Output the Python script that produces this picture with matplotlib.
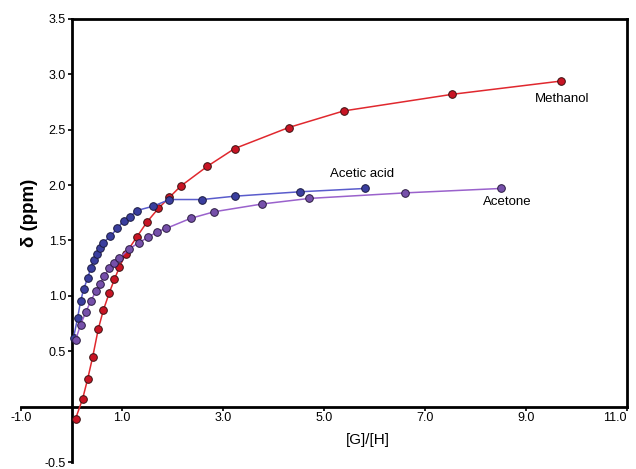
import matplotlib
matplotlib.use('Agg')
import matplotlib.pyplot as plt

plt.rcParams['font.family'] = ['Liberation Sans', 'DejaVu Sans']

# methanol
meth_x = [0.08, 0.22, 0.32, 0.42, 0.53, 0.63, 0.75, 0.85, 0.95, 1.07, 1.29, 1.50,
          1.72, 1.94, 2.16, 2.69, 3.23, 4.30, 5.39, 7.54, 9.70]
meth_y = [-0.11, 0.07, 0.25, 0.45, 0.70, 0.87, 1.03, 1.15, 1.26, 1.38, 1.53, 1.67,
          1.79, 1.89, 1.99, 2.17, 2.33, 2.52, 2.67, 2.82, 2.94]

# acetic acid
acid_x = [0.04, 0.12, 0.18, 0.24, 0.32, 0.38, 0.44, 0.51, 0.57, 0.63, 0.77, 0.91,
          1.03, 1.15, 1.29, 1.62, 1.94, 2.59, 3.23, 4.53, 5.82]
acid_y = [0.62, 0.80, 0.95, 1.06, 1.16, 1.25, 1.32, 1.38, 1.43, 1.48, 1.54, 1.61,
          1.68, 1.71, 1.77, 1.81, 1.87, 1.87, 1.90, 1.94, 1.97]

# acetone
acet_x = [0.08, 0.18, 0.28, 0.38, 0.48, 0.57, 0.65, 0.75, 0.85, 0.95, 1.13, 1.33,
          1.52, 1.70, 1.88, 2.36, 2.83, 3.78, 4.71, 6.61, 8.51]
acet_y = [0.60, 0.74, 0.85, 0.95, 1.04, 1.11, 1.18, 1.25, 1.30, 1.34, 1.42, 1.48,
          1.53, 1.58, 1.61, 1.70, 1.76, 1.83, 1.88, 1.93, 1.97]

xticks = [-1, 1, 3, 5, 7, 9, 11]
yticks = [-0.5, 0.5, 1.0, 1.5, 2.0, 2.5, 3.0, 3.5]

fig = plt.figure(figsize=(6.36, 4.69), dpi=100)
ax = fig.add_axes([21/636, 7/469, 606/636, 443/469])

ax.plot(meth_x, meth_y, '-o', color='#e0282e', lw=1.1, ms=5.5,
        markerfacecolor='#c81424', markeredgecolor='#3a1010', markeredgewidth=0.7,
        clip_on=False, zorder=3)
ax.plot(acid_x, acid_y, '-o', color='#5a5ccc', lw=1.1, ms=5.5,
        markerfacecolor='#3a3e9e', markeredgecolor='#1a1a40', markeredgewidth=0.7,
        clip_on=False, zorder=3)
ax.plot(acet_x, acet_y, '-o', color='#9a62cc', lw=1.1, ms=5.5,
        markerfacecolor='#7650aa', markeredgecolor='#2a1a40', markeredgewidth=0.7,
        clip_on=False, zorder=3)

ax.set_xlim(-1, 11)
ax.set_ylim(-0.5, 3.5)

ax.spines['left'].set_position(('data', 0))
ax.spines['bottom'].set_position(('data', 0))
ax.spines['top'].set_bounds(0, 11)
ax.spines['right'].set_bounds(0, 3.5)
for s in ax.spines.values():
    s.set_linewidth(2.0)

ax.set_xticks(xticks)
ax.set_xticklabels(['%.1f' % v for v in xticks])
ax.set_yticks(yticks)
ax.set_yticklabels(['%.1f' % v for v in yticks])
ax.tick_params(direction='out', length=3, width=1.2, labelsize=9, pad=1)
# keep the last x label inside the figure
ax.get_xticklabels()[-1].set_ha('right')

ax.text(9.72, 2.78, 'Methanol', ha='center', va='center', fontsize=9.5)
ax.text(5.76, 2.10, 'Acetic acid', ha='center', va='center', fontsize=9.5)
ax.text(8.63, 1.85, 'Acetone', ha='center', va='center', fontsize=9.5)

ax.text(5.86, -0.30, '[G]/[H]', ha='center', va='center', fontsize=11)
ax.text(-0.83, 1.75, 'δ (ppm)', ha='center', va='center', rotation=90,
        fontsize=13.5, fontweight='bold')

plt.savefig('out.png', dpi=100)
